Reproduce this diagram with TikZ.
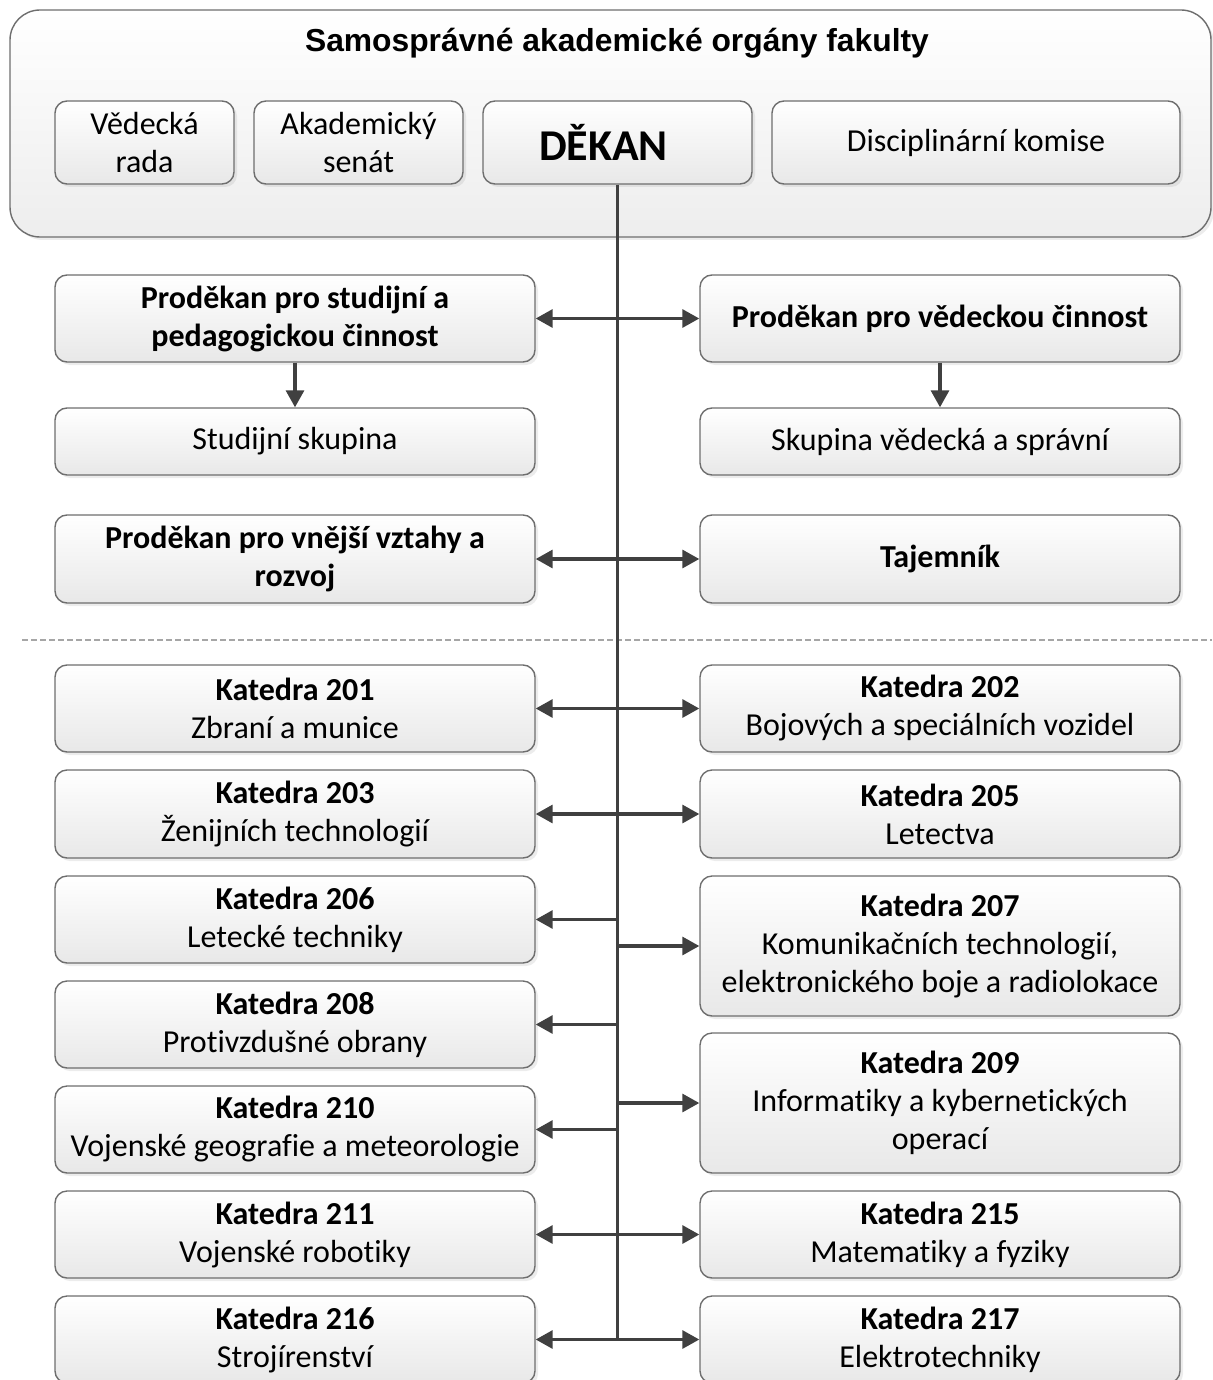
\documentclass[tikz,border=0pt]{standalone}
\usepackage{fontspec}
\setmainfont{Carlito}[Ligatures=NoCommon]
\newfontfamily\titlefont{Liberation Sans}
\usepackage{tikz}
\usetikzlibrary{arrows.meta,shadows}
\definecolor{linka}{HTML}{404040}
\definecolor{okraj}{HTML}{6E6E6E}
\newcommand{\kat}[2]{\textbf{Katedra #1}\\#2}

\begin{document}
\begin{tikzpicture}[x=0.5pt,y=-0.5pt,
		organ/.style={draw=okraj,line width=0.7pt,rounded corners=6pt,top color=white,bottom color=black!9,
			drop shadow={shadow xshift=1.5pt,shadow yshift=-1.5pt,opacity=0.15},
			align=center,inner sep=2pt,font=\fontsize{16}{19}\selectfont},
		levy/.style={organ,minimum width=240pt,minimum height=43.5pt},
		horni/.style={organ,minimum height=41.5pt},
		spoj/.style={draw=linka,line width=1.6pt},
		sipka/.style={spoj,-{Triangle[length=8.5pt,width=9pt]}}]
		\useasboundingbox (0,0) rectangle (1212,1380);
		% samospravne organy
		\node[organ,rounded corners=15pt,bottom color=black!7,minimum width=600.5pt,minimum height=113.5pt] (organy) at (610.5,123.5) {};
		\node[font=\titlefont\fontsize{15.9}{19}\selectfont\bfseries] (nadpis) at (617,43) {Samosprávné akademické orgány fakulty};
		\node[horni,minimum width=89.5pt] (vr) at (144.5,142.5) {Vědecká\\rada};
		\node[horni,minimum width=104.5pt] (as) at (358.5,142.5) {Akademický\\senát};
		\node[horni,minimum width=134.5pt,font=\fontsize{22}{26}\selectfont\bfseries] (dekan) at (617.5,142.5) {DĚKAN\hspace*{14pt}};
		\node[horni,minimum width=204pt] (dk) at (976,142.5) {Disciplinární komise};
		% vedeni
		\node[levy] (psp) at (295,318.5) {\textbf{Proděkan pro studijní a}\\\textbf{pedagogickou činnost}};
		\node[levy] (pvc) at (940,318.5) {\textbf{Proděkan pro vědeckou činnost}};
		\node[levy,minimum height=33.5pt] (ss) at (295,441.5) {Studijní skupina};
		\node[levy,minimum height=33.5pt] (svs) at (940,441.5) {Skupina vědecká a správní};
		\node[levy,minimum height=44pt] (pvv) at (295,559) {\textbf{Proděkan pro vnější vztahy a}\\\textbf{rozvoj}};
		\node[levy,minimum height=44pt] (taj) at (940,559) {\textbf{Tajemník}};
		% katedry
		\node[levy] (k201) at (295,708.5) {\kat{201}{Zbraní a munice}};
		\node[levy] (k202) at (940,708.5) {\kat{202}{Bojových a speciálních vozidel}};
		\node[levy,minimum height=44pt] (k203) at (295,814) {\kat{203}{Ženijních technologií}};
		\node[levy,minimum height=44pt] (k205) at (940,814) {\kat{205}{Letectva}};
		\node[levy] (k206) at (295,919.5) {\kat{206}{Letecké techniky}};
		\node[levy,minimum height=70pt] (k207) at (940,946) {\kat{207}{Komunikačních technologií,\\elektronického boje a radiolokace}};
		\node[levy] (k208) at (295,1024.5) {\kat{208}{Protivzdušné obrany}};
		\node[levy,minimum height=70pt] (k209) at (940,1103) {\kat{209}{Informatiky a kybernetických\\operací}};
		\node[levy] (k210) at (295,1129.5) {\kat{210}{Vojenské geografie a meteorologie}};
		\node[levy] (k211) at (295,1234.5) {\kat{211}{Vojenské robotiky}};
		\node[levy] (k215) at (940,1234.5) {\kat{215}{Matematiky a fyziky}};
		\node[levy] (k216) at (295,1339.5) {\kat{216}{Strojírenství}};
		\node[levy] (k217) at (940,1339.5) {\kat{217}{Elektrotechniky}};
		% deleni
		\coordinate (d1) at (22,640);
		\coordinate (d2) at (1212,640);
		\draw[black!35,line width=0.6pt,dash pattern=on 3pt off 1.5pt] (d1) -- (d2);
		% spoje
		\draw[spoj] (dekan.south) -- (dekan.south |- k216.east);
		\draw[sipka] (psp.south) -- (ss.north);
		\draw[sipka] (pvc.south) -- (svs.north);
		\foreach \n in {psp,pvv,k201,k203,k206,k208,k210,k211,k216}
			\draw[sipka] (dekan.south |- \n.east) -- (\n.east);
		\foreach \n in {pvc,taj,k202,k205,k207,k209,k215,k217}
			\draw[sipka] (dekan.south |- \n.west) -- (\n.west);
	\end{tikzpicture}
\end{document}
